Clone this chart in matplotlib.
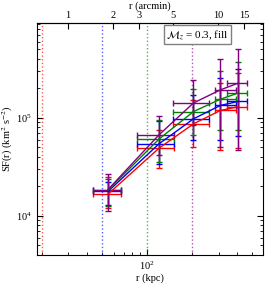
import numpy as np
import matplotlib
matplotlib.use("Agg")
import matplotlib.pyplot as plt
from matplotlib.ticker import NullLocator, LogLocator, NullFormatter

plt.rcParams['font.family'] = ['Liberation Serif', 'DejaVu Serif']
plt.rcParams['mathtext.fontset'] = 'stix'
plt.rcParams['font.size'] = 7.5

kpc_per_arcmin = 29.7

# bin centres and edges (kpc)
r_mid = [55, 120, 204, 308, 404]
r_lo = [44, 86, 149, 283, 342]
r_hi = [67, 151, 259, 392, 464]

# structure function per curve: value, lower end, upper end of error bar
sf_red = [1.67e4, 4.9e4, 8.7e4, 1.19e5, 1.30e5]
sf_red_lo = [1.2e4, 3.09e4, 5.1e4, 4.7e4, 4.94e4]
sf_red_hi = [2.5e4, 7.6e4, 1.53e5, 2.28e5, 2.86e5]

sf_blue = [1.78e4, 5.43e4, 9.78e4, 1.34e5, 1.47e5]
sf_blue_lo = [1.3e4, 3.4e4, 5.97e4, 5.97e4, 6.55e4]
sf_blue_hi = [2.2e4, 9.2e4, 1.72e5, 2.54e5, 3.14e5]

sf_green = [1.84e4, 6.07e4, 1.16e5, 1.55e5, 1.79e5]
sf_green_lo = [1.26e4, 3.58e4, 6.7e4, 7.55e4, 7.55e4]
sf_green_hi = [2.4e4, 9.5e4, 1.98e5, 3.04e5, 3.75e5]

sf_purple = [1.86e4, 6.7e4, 1.42e5, 1.93e5, 2.26e5]
sf_purple_lo = [1.12e4, 4.2e4, 8.5e4, 5.0e4, 4.7e4]
sf_purple_hi = [2.66e4, 1.05e5, 2.44e5, 3.97e5, 5.0e5]

vlines = [20, 50, 100, 200]
vline_colors = ["red", "blue", "green", "purple"]

fig = plt.figure(figsize=(2.66, 2.83), dpi=100)
ax = fig.add_axes([0.139, 0.099, 0.85, 0.82])

for xv, c in zip(vlines, vline_colors):
    ax.axvline(xv, color=c, ls=":", lw=1.0, alpha=0.65)

x = np.array(r_mid)
xerr = [x - np.array(r_lo), np.array(r_hi) - x]
curves = [
    (sf_red, sf_red_lo, sf_red_hi, "red"),
    (sf_blue, sf_blue_lo, sf_blue_hi, "blue"),
    (sf_green, sf_green_lo, sf_green_hi, "green"),
    (sf_purple, sf_purple_lo, sf_purple_hi, "purple"),
]
for y, ylo, yhi, c in curves:
    y = np.array(y)
    yerr = [y - np.array(ylo), np.array(yhi) - y]
    ax.errorbar(x, y, xerr=xerr, yerr=yerr, color=c, lw=1.0,
                elinewidth=1.0, capsize=2, capthick=1.0)

ax.set_xscale("log")
ax.set_yscale("log")
ax.set_xlim(18.5, 593)
ax.set_ylim(4.0e3, 9.3e5)
ax.set_xlabel("r (kpc)", labelpad=1)
ax.set_ylabel(r"SF(r) (km$^2$ s$^{-2}$)", labelpad=1)
ax.tick_params(which="both", direction="in", top=False, right=True)
ax.tick_params(which="major", length=4)
ax.tick_params(which="minor", length=2)
ax.xaxis.set_minor_locator(LogLocator(subs=np.arange(2, 10)))
ax.xaxis.set_minor_formatter(NullFormatter())

ax2 = ax.secondary_xaxis("top", functions=(lambda r: r / kpc_per_arcmin,
                                            lambda a: a * kpc_per_arcmin))
ax2.set_xticks([1, 2, 3, 5, 10, 15])
ax2.set_xticklabels(["1", "2", "3", "5", "10", "15"])
ax2.xaxis.set_minor_locator(NullLocator())
ax2.tick_params(direction="in", length=4, pad=2)
ax2.set_xlabel("r (arcmin)", labelpad=2)

ax.text(0.71, 0.95, r"$\mathcal{M}_z$ = 0.3, fill", transform=ax.transAxes,
        ha="center", va="center", fontsize=8,
        bbox=dict(boxstyle="square,pad=0.2", fc="white", ec="gray", lw=1))

fig.savefig("out.png", dpi=100)
